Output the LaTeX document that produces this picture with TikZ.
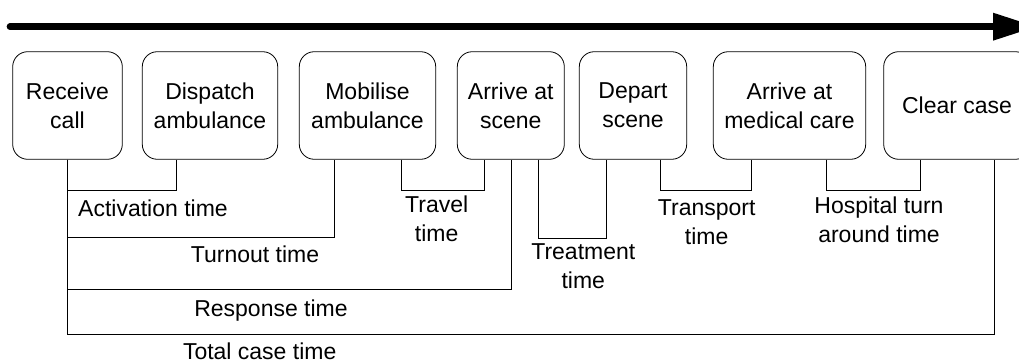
\documentclass[tikz,border=0pt]{standalone}
\usepackage{fontspec}
\setmainfont{Liberation Sans}
\begin{document}
\begin{tikzpicture}[x=1pt,y=-1pt,
  txt/.style={font=\fontsize{23}{29}\selectfont, align=center, inner sep=0pt},
  stage/.style={txt, draw, line width=0.8pt, rounded corners=15pt, minimum height=107.6pt},
  link/.style={draw, line width=0.8pt},
  lbl/.style={txt}]
\useasboundingbox (0,0) rectangle (1019,363);
\clip (0,0) rectangle (1019,363);

% time axis
\coordinate (t0) at (10,26.7);
\coordinate (t1) at (993,26.7);
\draw[line width=6.7pt, line cap=round] (t0) -- (t1);
\fill (993,12.7) -- (1036,26.7) -- (993,40.7) -- cycle;

% stages of a case
\node[stage, minimum width=109.6pt] (recv)   at (67.5,105.5)  {Receive\\call};
\node[stage, minimum width=135.4pt] (disp)   at (210,105.5)   {Dispatch\\ambulance};
\node[stage, minimum width=136.4pt] (mobi)   at (367.5,105.5) {Mobilise\\ambulance};
\node[stage, minimum width=107pt]   (scene)  at (510.8,105.5) {Arrive at\\scene};
\node[stage, minimum width=107.4pt] (depart) at (633,105.5)   {Depart\\scene};
\node[stage, minimum width=152.4pt] (medic)  at (789.5,105.5) {Arrive at\\medical care};
\node[stage, minimum width=146.6pt] (clear)  at (957,105.5)   {Clear case};

% attachment points under the stages
\coordinate (dispL)   at ([xshift=-33.7pt]disp.south);
\coordinate (mobiL)   at ([xshift=-33.5pt]mobi.south);
\coordinate (mobiR)   at ([xshift=33.5pt]mobi.south);
\coordinate (sceneL)  at ([xshift=-26.5pt]scene.south);
\coordinate (sceneM)  at ([xshift=0.2pt]scene.south);
\coordinate (sceneR)  at ([xshift=27.2pt]scene.south);
\coordinate (departL) at ([xshift=-27pt]depart.south);
\coordinate (departR) at ([xshift=27pt]depart.south);
\coordinate (medicL)  at ([xshift=-37.8pt]medic.south);
\coordinate (medicR)  at ([xshift=37.2pt]medic.south);
\coordinate (clearL)  at ([xshift=-36.3pt]clear.south);
\coordinate (clearR)  at ([xshift=37.3pt]clear.south);

% intervals
\draw[link] (recv.south) -- ++(0,31) -| (dispL);
\draw[link] (recv.south) -- ++(0,78) -| (mobiL);
\draw[link] (recv.south) -- ++(0,130) -| (sceneM);
\draw[link] (recv.south) -- ++(0,174.7) -| (clearR);
\draw[link] (mobiR) -- ++(0,31) -| (sceneL);
\draw[link] (sceneR) -- ++(0,79) -| (departL);
\draw[link] (departR) -- ++(0,31) -| (medicL);
\draw[link] (medicR) -- ++(0,31) -| (clearL);

% interval names
\node[lbl, anchor=west] (lact)   at (78,208)      {Activation time};
\node[lbl]              (lturn)  at (255,254)     {Turnout time};
\node[lbl]              (ltrav)  at (436.7,219)   {Travel\\time};
\node[lbl]              (lresp)  at (271,311)     {Response time};
\node[lbl]              (ltreat) at (583.3,266)   {Treatment\\time};
\node[lbl]              (ltrans) at (706.7,222.7) {Transport\\time};
\node[lbl]              (lhosp)  at (879,219.5)   {Hospital turn\\around time};
\node[font=\fontsize{23}{29}\selectfont, inner sep=0pt, anchor=base]
                        (ltotal) at (259.7,359.5) {Total case time};
\end{tikzpicture}
\end{document}
